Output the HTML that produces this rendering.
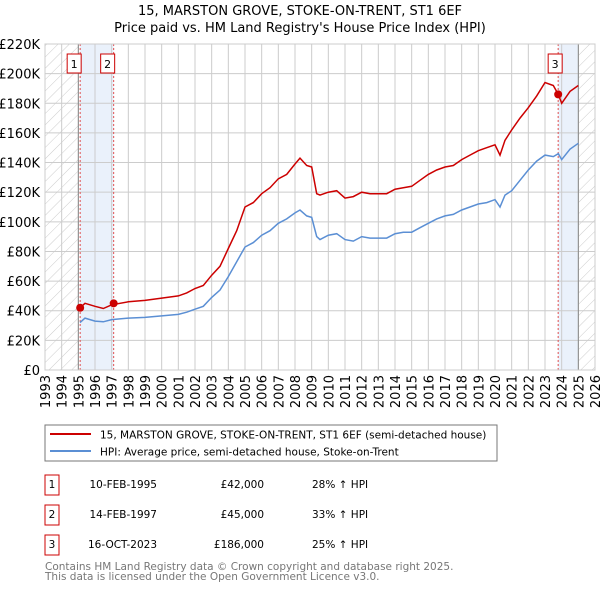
<!DOCTYPE html>
<html><head><meta charset="utf-8"><style>
body{margin:0;background:#fff;font-family:"Liberation Sans","DejaVu Sans",sans-serif}
svg text{font-family:"DejaVu Sans","Liberation Sans",sans-serif}
</style></head><body>
<svg id="c" width="600" height="590" xmlns="http://www.w3.org/2000/svg">
<defs><pattern id="h" width="8" height="8" patternUnits="userSpaceOnUse" patternTransform="rotate(45)"><line x1="0" y1="0" x2="0" y2="8" stroke="#ccc" stroke-width="1"/></pattern></defs>
<text x="300" y="15" font-size="13" text-anchor="middle">15, MARSTON GROVE, STOKE-ON-TRENT, ST1 6EF</text>
<text x="300" y="32" font-size="13" text-anchor="middle">Price paid vs. HM Land Registry's House Price Index (HPI)</text>
<g id="plot"></g>
<rect x="45" y="425" width="452" height="36" fill="#fff" stroke="#777"/>
<line x1="50" y1="434" x2="91" y2="434" stroke="#cc0000" stroke-width="2"/>
<text x="100" y="438.5" font-size="10.5">15, MARSTON GROVE, STOKE-ON-TRENT, ST1 6EF (semi-detached house)</text>
<line x1="50" y1="451" x2="91" y2="451" stroke="#5b8fd4" stroke-width="2"/>
<text x="100" y="455.5" font-size="10.5">HPI: Average price, semi-detached house, Stoke-on-Trent</text>
<g font-size="10.5">
<rect x="45" y="475" width="14" height="20" fill="#fff" stroke="#c00"/><text x="52" y="488" text-anchor="middle">1</text>
<text x="157" y="488" text-anchor="end">10-FEB-1995</text><text x="264" y="488" text-anchor="end">£42,000</text><text x="312" y="488">28% ↑ HPI</text>
<rect x="45" y="505" width="14" height="20" fill="#fff" stroke="#c00"/><text x="52" y="518" text-anchor="middle">2</text>
<text x="157" y="518" text-anchor="end">14-FEB-1997</text><text x="264" y="518" text-anchor="end">£45,000</text><text x="312" y="518">33% ↑ HPI</text>
<rect x="45" y="535" width="14" height="20" fill="#fff" stroke="#c00"/><text x="52" y="548" text-anchor="middle">3</text>
<text x="157" y="548" text-anchor="end">16-OCT-2023</text><text x="264" y="548" text-anchor="end">£186,000</text><text x="312" y="548">25% ↑ HPI</text>
</g>
<text x="45" y="570" font-size="10.5" fill="#777">Contains HM Land Registry data © Crown copyright and database right 2025.</text>
<text x="45" y="580" font-size="10.5" fill="#777">This data is licensed under the Open Government Licence v3.0.</text>
</svg>
<script>
const years=[1995.1,1995.4,1996,1996.5,1997,1998,1999,2000,2001,2001.5,2002,2002.5,2003,2003.5,2004,2004.5,2005,2005.5,2006,2006.5,2007,2007.5,2008,2008.3,2008.7,2009,2009.3,2009.5,2010,2010.5,2011,2011.5,2012,2012.5,2013,2013.5,2014,2014.5,2015,2015.5,2016,2016.5,2017,2017.5,2018,2018.5,2019,2019.5,2020,2020.3,2020.6,2021,2021.5,2022,2022.5,2023,2023.5,2023.8,2024,2024.5,2025];
const hpi=[32,35,33,32.5,34,35,35.5,36.5,37.5,39,41,43,49,54,63,73,83,86,91,94,99,102,106,108,104,103,90,88,91,92,88,87,90,89,89,89,92,93,93,96,99,102,104,105,108,110,112,113,115,110,118,121,128,135,141,145,144,146,142,149,153];
const price=[42,45,43,41.5,44,46,47,48.5,50,52,55,57,64,70,82,94,110,113,119,123,129,132,139,143,138,137,119,118,120,121,116,117,120,119,119,119,122,123,124,128,132,135,137,138,142,145,148,150,152,145,155,162,170,177,185,194,192,186,180,188,192];
const saleYears=[1995.11,1997.12,2023.79];
const salePrices=[42,45,186];
const saleLabels=["1","2","3"];
const yTicks=[0,20,40,60,80,100,120,140,160,180,200,220];
const xTicks=[1993,1994,1995,1996,1997,1998,1999,2000,2001,2002,2003,2004,2005,2006,2007,2008,2009,2010,2011,2012,2013,2014,2015,2016,2017,2018,2019,2020,2021,2022,2023,2024,2025,2026];
const X=y=>45+(y-1993)*550/33, Y=v=>370-v*326/220;
const NS="http://www.w3.org/2000/svg", g=document.getElementById('plot');
function mk(t,a){const e=document.createElementNS(NS,t);for(const k in a)e.setAttribute(k,a[k]);g.appendChild(e);return e;}
let e;
e=mk('rect',{x:X(1995.1),y:44,width:X(1997.12)-X(1995.1),height:326,fill:'#e8effb',opacity:0.9});


e=mk('rect',{x:X(2023.79),y:44,width:X(2025)-X(2023.79),height:326,fill:'#e8effb',opacity:0.9});


e=mk('rect',{x:45,y:44,width:X(1995)-45,height:326,fill:'url(#h)'});


e=mk('rect',{x:X(2025),y:44,width:595-X(2025),height:326,fill:'url(#h)'});


yTicks.forEach(v=>{
 e=mk('line',{x1:45,x2:595,y1:Y(v),y2:Y(v),stroke:'#ccc'});
 
 
 e=mk('text',{x:40,y:Y(v)+5,'font-size':13,'text-anchor':'end'});e.textContent='£'+(v?v+'K':'0');
 
 
});
xTicks.forEach(y=>{
 e=mk('line',{x1:X(y),x2:X(y),y1:44,y2:370,stroke:'#ccc'});
 
 
 e=mk('text',{x:0,y:0,'font-size':13,'text-anchor':'end',transform:`translate(${X(y)+5},375) rotate(-90)`});e.textContent=y;
 
 
});
e=mk('line',{x1:X(1995),x2:X(1995),y1:44,y2:370,stroke:'#888'});


e=mk('line',{x1:X(2025),x2:X(2025),y1:44,y2:370,stroke:'#888'});


saleYears.forEach((y,i)=>{
 e=mk('line',{x1:X(y),x2:X(y),y1:44,y2:370,stroke:'#e05050','stroke-dasharray':'2,2'});
 
 
});
const pts=a=>years.map((y,i)=>X(y).toFixed(1)+','+Y(a[i]).toFixed(1)).join(' ');
e=mk('polyline',{points:pts(hpi),fill:'none',stroke:'#5b8fd4','stroke-width':1.5});


e=mk('polyline',{points:pts(price),fill:'none',stroke:'#cc0000','stroke-width':1.5});


saleYears.forEach((y,i)=>{
 e=mk('circle',{cx:X(y),cy:Y(salePrices[i]),r:4,fill:'#cc0000'});
 
 
 e=mk('rect',{x:X(y)-10-(i<2?3:0),y:54,width:14,height:19,fill:'#fff',stroke:'#c00'});
 
 
 e=mk('text',{x:X(y)-3-(i<2?3:0),y:68,'font-size':11,'text-anchor':'middle'});e.textContent=saleLabels[i];
 
 
});
e=mk('rect',{x:45,y:44,width:550,height:326,fill:'none',stroke:'#ccc'});


</script>
</body></html>
